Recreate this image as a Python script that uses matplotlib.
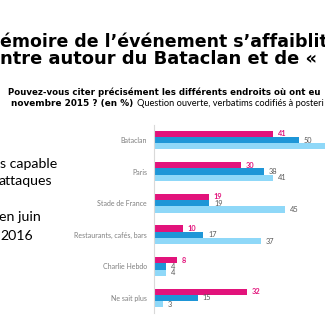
import matplotlib
matplotlib.use("Agg")
import matplotlib.pyplot as plt
import numpy as np

# Données (en %)
categories = ["Bataclan", "Paris", "Stade de France",
              "Restaurants, cafés, bars", "Charlie Hebdo", "Ne sait plus"]
serie_1 = [41, 30, 19, 10, 8, 32]    # magenta
serie_2 = [50, 38, 19, 17, 4, 15]    # bleu
serie_3 = [61, 41, 45, 37, 4, 3]     # bleu clair

couleurs = ["#E2137B", "#1E96D7", "#8FD8F8"]
W = H = 325


def px(x, y):
    # coordonnées pixel -> fraction de figure
    return x / W, 1 - y / H


fig = plt.figure(figsize=(3.25, 3.25), dpi=100)
fig.patch.set_facecolor("white")
r = fig.canvas.get_renderer()


def texte(x, y, s, largeur, **kw):
    # place un texte et ajuste la taille pour qu'il fasse `largeur` pixels
    t = fig.text(*px(x, y), s, fontsize=10, va="baseline", color="black", **kw)
    w = t.get_window_extent(renderer=r).width
    t.set_fontsize(10 * largeur / w)
    return t


# Titre (coupé sur la capture)
t1 = texte(0, 47, "émoire de l\u2019événement s\u2019affaibli", 317,
           family="DejaVu Sans", weight="bold")
t1.set_text("émoire de l\u2019événement s\u2019affaiblit")
texte(0, 64, "ntre autour du Bataclan et de \u00ab", 318,
      family="DejaVu Sans", weight="bold")

# Question
texte(8, 95, "Pouvez-vous citer précisément les différents endroits où ont eu", 312,
      family="DejaVu Sans", weight="bold")
texte(11, 106, "novembre 2015 ? (en %)", 122, family="DejaVu Sans", weight="bold")
texte(137, 106, "Question ouverte, verbatims codifiés à posteri", 188, family="Lato")

# Texte de gauche (coupé à gauche : on aligne à droite)
taille = texte(0, 168, "s capable", 57, family="Lato").get_fontsize()
fig.texts[-1].remove()
for y, s, xd in [(168, "s capable", 57), (185, "attaques", 52),
                 (221, "en juin", 41)]:
    fig.text(*px(xd, y), s, family="Lato", fontsize=taille, ha="right",
             va="baseline", color="black")
fig.text(*px(0, 240), "2016", family="Lato", fontsize=taille, ha="left",
         va="baseline", color="black")

# Graphique
ax = fig.add_axes([154 / W, (H - 313) / H, 174 / W, 188 / H])
y = np.arange(len(categories))
h = 0.2
for k, (vals, c) in enumerate(zip([serie_1, serie_2, serie_3], couleurs)):
    pos = y + (k - 1) * h
    ax.barh(pos, vals, height=h, color=c)
    for p, v in zip(pos, vals):
        ax.annotate(str(v), (v, p), xytext=(3.5, 0), textcoords="offset points",
                    va="center", ha="left", fontsize=5.3, family="Lato",
                    color=couleurs[0] if k == 0 else "#595959",
                    weight="bold" if k == 0 else "normal",
                    annotation_clip=False)

ax.set_xlim(0, 60)
ax.set_ylim(5.475, -0.475)
ax.set_yticks(y)
ax.set_yticklabels(categories, family="Lato", fontsize=5, color="#7F7F7F")
ax.tick_params(axis="y", length=0, pad=5)
ax.set_xticks([])
for s in ["top", "right", "bottom"]:
    ax.spines[s].set_visible(False)
ax.spines["left"].set_color("#D9D9D9")
ax.spines["left"].set_linewidth(0.8)
ax.patch.set_alpha(0)

fig.savefig("out.png", dpi=100)
